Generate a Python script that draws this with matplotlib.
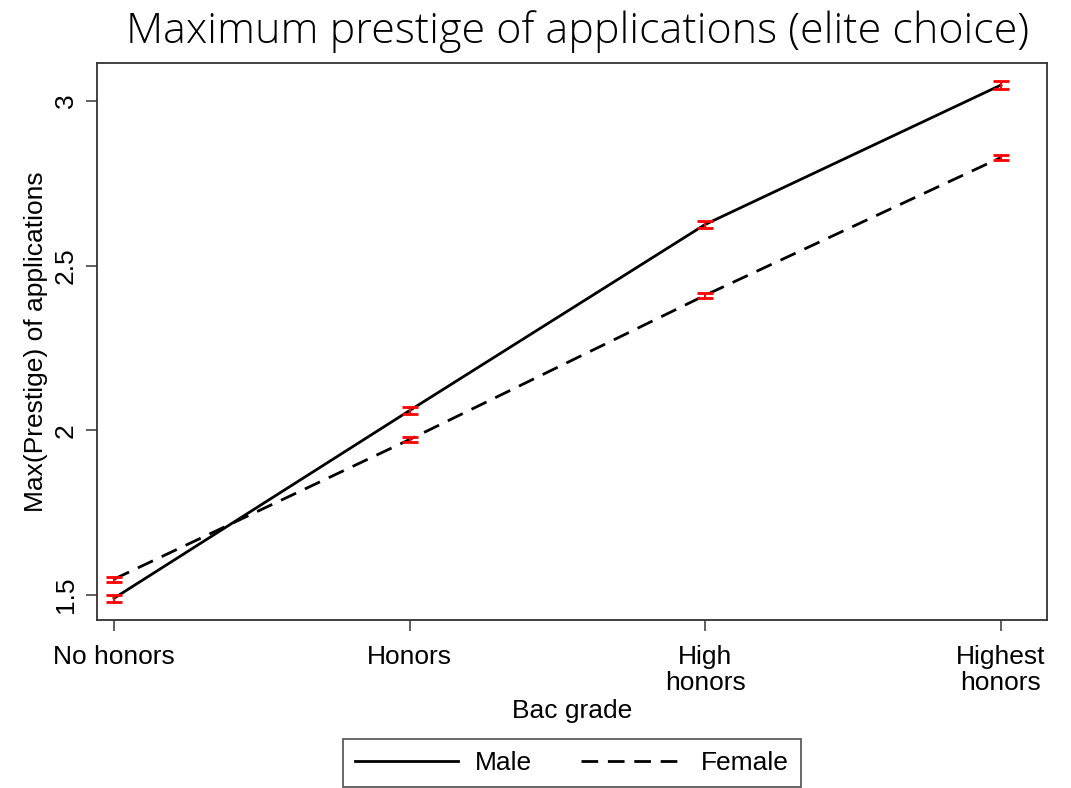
import numpy as np
import matplotlib.pyplot as plt

grades = ['No honors', 'Honors', 'High\nhonors', 'Highest\nhonors']
male = [1.49, 2.06, 2.625, 3.048]
female = [1.548, 1.972, 2.41, 2.828]
male_err = [0.010, 0.010, 0.010, 0.012]
female_err = [0.008, 0.009, 0.008, 0.009]

plt.rcParams['font.family'] = ['Liberation Sans', 'DejaVu Sans']

fig = plt.figure(figsize=(10.71, 7.88), dpi=100)
ax = fig.add_axes([97/1071, 1-620/788, 950/1071, 557/788])

x = np.arange(len(grades))
ax.plot(x, male, color='black', lw=2.0, label='Male')
ax.plot(x, female, color='black', lw=2.0, ls=(0, (6, 3.5)), label='Female')
ax.errorbar(x, male, yerr=male_err, fmt='none', ecolor='red', elinewidth=1.5, capsize=6, capthick=2)
ax.errorbar(x, female, yerr=female_err, fmt='none', ecolor='red', elinewidth=1.5, capsize=6, capthick=2)

ax.set_xlim(-0.0575, 3.156)
ax.set_ylim(1.424, 3.115)
ax.set_xticks(x)
ax.set_xticklabels(grades, fontsize=19, linespacing=1.08)
ax.set_yticks([1.5, 2, 2.5, 3])
ax.set_yticklabels(['1.5', '2', '2.5', '3'], fontsize=19, rotation=90, va='center')
ax.tick_params(axis='both', length=8, width=1.2, color='#444444', pad=6)
ax.tick_params(axis='x', pad=10)
for s in ax.spines.values():
    s.set_linewidth(1.3)
    s.set_color('#333333')

ax.set_xlabel('Bac grade', fontsize=19, labelpad=3)
ax.set_ylabel('Max(Prestige) of applications', fontsize=19, labelpad=4)

fig.text(578/1071, 1-32/788, 'Maximum prestige of applications (elite choice)',
         ha='center', va='center', fontsize=31, family=['Open Sans', 'DejaVu Sans'], fontweight='light')

leg = fig.legend(loc='center', bbox_to_anchor=(572/1071, 1-763/788), ncol=2, fontsize=19,
                 handlelength=3.9, columnspacing=1.85, fancybox=False, edgecolor='#333333',
                 borderpad=0.45, handletextpad=0.65)
leg.get_frame().set_linewidth(1.3)

fig.savefig('out.png', dpi=100)
